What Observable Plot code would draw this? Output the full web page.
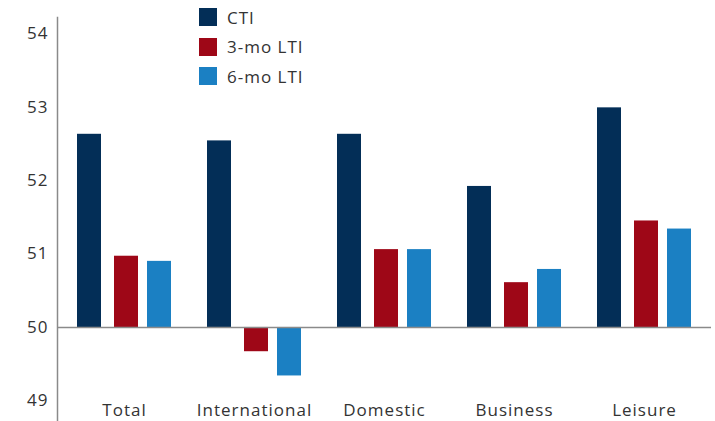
<!DOCTYPE html>
<html><head><meta charset="utf-8">
<script src="https://cdn.jsdelivr.net/npm/d3@7"></script>
<script src="https://cdn.jsdelivr.net/npm/@observablehq/plot@0.6"></script>
<style>
body{margin:0;background:#fff;}
#wrap{position:relative;width:715px;height:421px;font-family:"Open Sans",sans-serif;}
#legend{position:absolute;left:199px;top:5.5px;width:220px;}
#legend .lg-swatch{padding-bottom:6.5px !important;line-height:23px;height:23px;margin:0 !important;letter-spacing:1px;overflow:visible !important;text-overflow:clip !important;}
#legend .lg-swatch svg{margin-right:10px !important;}
#legend .lg-swatches{margin:0 !important;font-size:17px !important;color:#333;font-family:"Open Sans",sans-serif !important;width:220px;}
</style></head><body><div id="wrap"><div id="legend"></div></div>
<script>
const categories = ["Total","International","Domestic","Business","Leisure"];
const series = ["CTI","3-mo LTI","6-mo LTI"];
const cti = [52.63,52.54,52.63,51.92,52.99];
const lti3 = [50.97,49.67,51.06,50.61,51.45];
const lti6 = [50.90,49.34,51.06,50.79,51.34];
const yTicks = [49,50,51,52,53,54];
const colors = ["#032e57","#9e0717","#1b80c3"];

const values = [cti, lti3, lti6];
const rows = series.flatMap((s,i)=>categories.map((c,j)=>({category:c, series:s, value: values[i][j]})));
const insets = [[18,88],[55,51],[88,18]];

const chart = Plot.plot({
  width:715, height:421, marginLeft:57, marginRight:4, marginTop:17, marginBottom:0,
  style:{fontFamily:"'Open Sans', sans-serif", fontSize:"17px", color:"#333", background:"#fff", letterSpacing:"1px"},
  x:{domain:categories, range:[59,709], padding:0, axis:null},
  y:{domain:[48.72,54.22], axis:null},
  color:{domain:series, range:colors},
  marks:[
    ...series.map((s,i)=>Plot.barY(rows.filter(d=>d.series===s),{x:"category", y1:50, y2:"value", fill:"series", insetLeft:insets[i][0], insetRight:insets[i][1]})),
    Plot.ruleY([50],{stroke:"#8a8a8a", strokeWidth:1.5}),
    Plot.frame({anchor:"left", stroke:"#8a8a8a", strokeWidth:1.5}),
    Plot.axisY(yTicks,{tickSize:0, tickPadding:9, fontSize:17, fill:"#333", tickFormat:d=>String(d), label:null}),
    Plot.text(categories,{x:d=>d, frameAnchor:"bottom", lineAnchor:"middle", dy:-11, fontSize:17, fill:"#333"})
  ]
});
document.getElementById("wrap").prepend(chart);
const lg = chart.legend("color",{legend:"swatches", columns:1, swatchSize:18, className:"lg"});
document.getElementById("legend").appendChild(lg);
</script></body></html>
